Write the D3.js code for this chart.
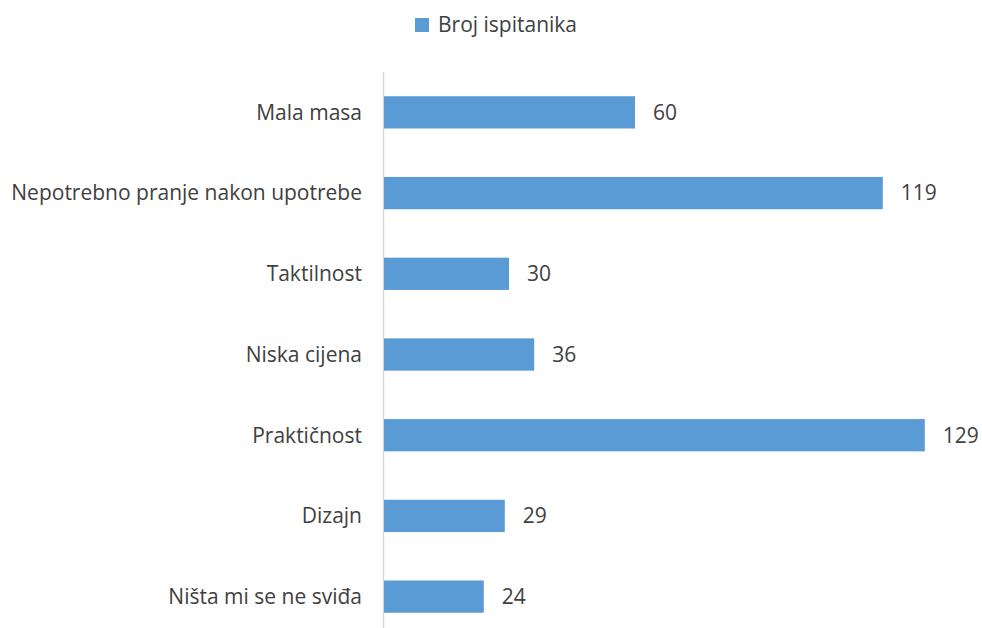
<!DOCTYPE html>
<html><head><meta charset="utf-8">
<script src="https://cdn.jsdelivr.net/npm/d3@7"></script>
<style>body{margin:0;background:#fff}svg{display:block}</style>
</head><body>
<script>
const categories = ["Mala masa","Nepotrebno pranje nakon upotrebe","Taktilnost","Niska cijena","Praktičnost","Dizajn","Ništa mi se ne sviđa"];
const values = [60,119,30,36,129,29,24];
const seriesName = "Broj ispitanika";

const W = 982, H = 628;
const svg = d3.select("body").append("svg").attr("width",W).attr("height",H);
const font = "'Open Sans', sans-serif";
const txt = "#404040";
const fs = 21;

const x = d3.scaleLinear().domain([0,60]).range([383,635]);
const y = d3.scaleBand().domain(categories).range([72,637]).paddingInner(0.6).paddingOuter(0.3);

svg.append("line").attr("x1",383.5).attr("x2",383.5).attr("y1",72).attr("y2",H)
  .attr("stroke","#d9d9d9").attr("stroke-width",1.5);

svg.selectAll("rect.bar").data(values).join("rect").attr("class","bar")
  .attr("x",x(0)+1).attr("y",(d,i)=>y(categories[i]))
  .attr("width",d=>x(d)-x(0)-1).attr("height",y.bandwidth())
  .attr("fill","#5b9bd5");

svg.selectAll("text.val").data(values).join("text").attr("class","val")
  .attr("x",d=>x(d)+18).attr("y",(d,i)=>y(categories[i])+y.bandwidth()/2)
  .attr("dy","0.35em").attr("font-family",font).attr("font-size",fs).attr("fill",txt)
  .text(d=>d);

svg.selectAll("text.cat").data(categories).join("text").attr("class","cat")
  .attr("x",362).attr("y",d=>y(d)+y.bandwidth()/2)
  .attr("dy","0.35em").attr("text-anchor","end").attr("font-family",font).attr("font-size",fs).attr("fill",txt)
  .text(d=>d);

const lg = svg.append("g");
lg.append("rect").attr("x",415).attr("y",18).attr("width",14).attr("height",14).attr("fill","#5b9bd5");
lg.append("text").attr("x",438).attr("y",25).attr("dy","0.35em").attr("font-family",font)
  .attr("font-size",fs).attr("fill",txt).text(seriesName);
</script>
</body></html>
